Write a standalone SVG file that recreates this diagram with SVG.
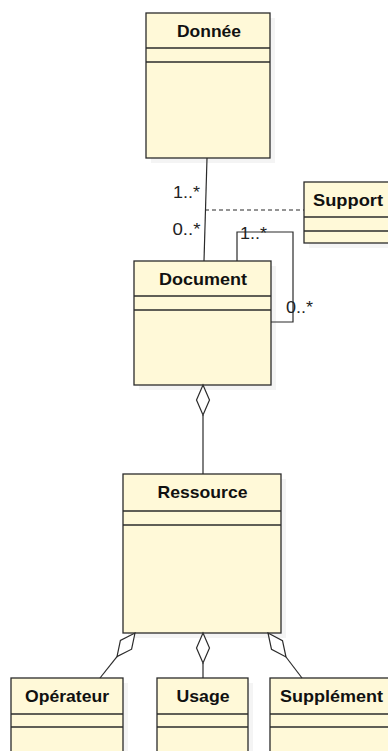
<svg xmlns="http://www.w3.org/2000/svg" width="388" height="751" viewBox="0 0 388 751">
<style>
.box{fill:#fff9d8;stroke:#2b2b2b;stroke-width:1.3}
.sh{fill:#f4f4f4}
.div{stroke:#2b2b2b;stroke-width:1.3}
.t{font-family:"Liberation Sans",Arial,sans-serif;font-weight:bold;font-size:17px;fill:#111;text-anchor:middle}
.lbl{font-family:"Liberation Sans",Arial,sans-serif;font-size:16px;fill:#222}
.c{fill:none;stroke:#2b2b2b;stroke-width:1.2}
.dia{fill:#fff;stroke:#2b2b2b;stroke-width:1.2}
</style>
<rect width="388" height="751" fill="#fff"/>
<g id="donnee">
<rect class="sh" x="151" y="18" width="124" height="145"/>
<rect class="box" x="146" y="13" width="124" height="145"/>
<line class="div" x1="146" y1="48" x2="270" y2="48"/>
<line class="div" x1="146" y1="62" x2="270" y2="62"/>
<text class="t" x="209" y="36.5" textLength="64" lengthAdjust="spacingAndGlyphs">Donnée</text>
</g>
<g id="support">
<rect class="sh" x="309" y="187" width="100" height="61"/>
<rect class="box" x="304" y="182" width="100" height="61"/>
<line class="div" x1="304" y1="217" x2="404" y2="217"/>
<line class="div" x1="304" y1="231" x2="404" y2="231"/>
<text class="t" x="348" y="205.5" textLength="70" lengthAdjust="spacingAndGlyphs">Support</text>
</g>
<g id="document">
<rect class="sh" x="139" y="266" width="137" height="124"/>
<rect class="box" x="134" y="261" width="137" height="124"/>
<line class="div" x1="134" y1="296" x2="271" y2="296"/>
<line class="div" x1="134" y1="310" x2="271" y2="310"/>
<text class="t" x="203" y="284.5" textLength="88" lengthAdjust="spacingAndGlyphs">Document</text>
</g>
<g id="ressource">
<rect class="sh" x="128" y="479" width="158" height="159"/>
<rect class="box" x="123" y="474" width="158" height="159"/>
<line class="div" x1="123" y1="511" x2="281" y2="511"/>
<line class="div" x1="123" y1="525" x2="281" y2="525"/>
<text class="t" x="202.5" y="498" textLength="90" lengthAdjust="spacingAndGlyphs">Ressource</text>
</g>
<g id="operateur">
<rect class="sh" x="16" y="683" width="112" height="80"/>
<rect class="box" x="11" y="678" width="112" height="80"/>
<line class="div" x1="11" y1="714" x2="123" y2="714"/>
<line class="div" x1="11" y1="727" x2="123" y2="727"/>
<text class="t" x="67" y="701.5" textLength="84" lengthAdjust="spacingAndGlyphs">Opérateur</text>
</g>
<g id="usage">
<rect class="sh" x="162" y="683" width="91" height="80"/>
<rect class="box" x="157" y="678" width="91" height="80"/>
<line class="div" x1="157" y1="714" x2="248" y2="714"/>
<line class="div" x1="157" y1="727" x2="248" y2="727"/>
<text class="t" x="203" y="701.5" textLength="53" lengthAdjust="spacingAndGlyphs">Usage</text>
</g>
<g id="supplement">
<rect class="sh" x="275" y="683" width="130" height="80"/>
<rect class="box" x="270" y="678" width="130" height="80"/>
<line class="div" x1="270" y1="714" x2="400" y2="714"/>
<line class="div" x1="270" y1="727" x2="400" y2="727"/>
<text class="t" x="331.5" y="701.5" textLength="103" lengthAdjust="spacingAndGlyphs">Supplément</text>
</g>
<g id="connectors">
<line class="c" x1="207" y1="158" x2="204" y2="261"/>
<line class="c" x1="205" y1="210" x2="304" y2="210" stroke-dasharray="4,3"/>
<polyline class="c" points="237,261 237,232 293,232 293,322 271,322"/>
<line class="c" x1="203" y1="415" x2="203" y2="474"/>
<polygon class="dia" points="203,385 209.5,400 203,415 196.5,400"/>
<line class="c" x1="117" y1="656.6" x2="100" y2="678"/>
<polygon class="dia" points="135,633 131.6,649.2 117,656.6 120.4,640.4"/>
<line class="c" x1="203" y1="663" x2="203" y2="678"/>
<polygon class="dia" points="203,633 209.5,648 203,663 196.5,648"/>
<line class="c" x1="286" y1="657" x2="302" y2="678"/>
<polygon class="dia" points="268,633 282.5,640.6 286,657 271.5,649.4"/>
<text class="lbl" x="173" y="198.3" textLength="27" lengthAdjust="spacingAndGlyphs">1..*</text>
<text class="lbl" x="172.5" y="235" textLength="28" lengthAdjust="spacingAndGlyphs">0..*</text>
<text class="lbl" x="240" y="239" textLength="27" lengthAdjust="spacingAndGlyphs">1..*</text>
<text class="lbl" x="286" y="312.7" textLength="27" lengthAdjust="spacingAndGlyphs">0..*</text>
</g>
</svg>
